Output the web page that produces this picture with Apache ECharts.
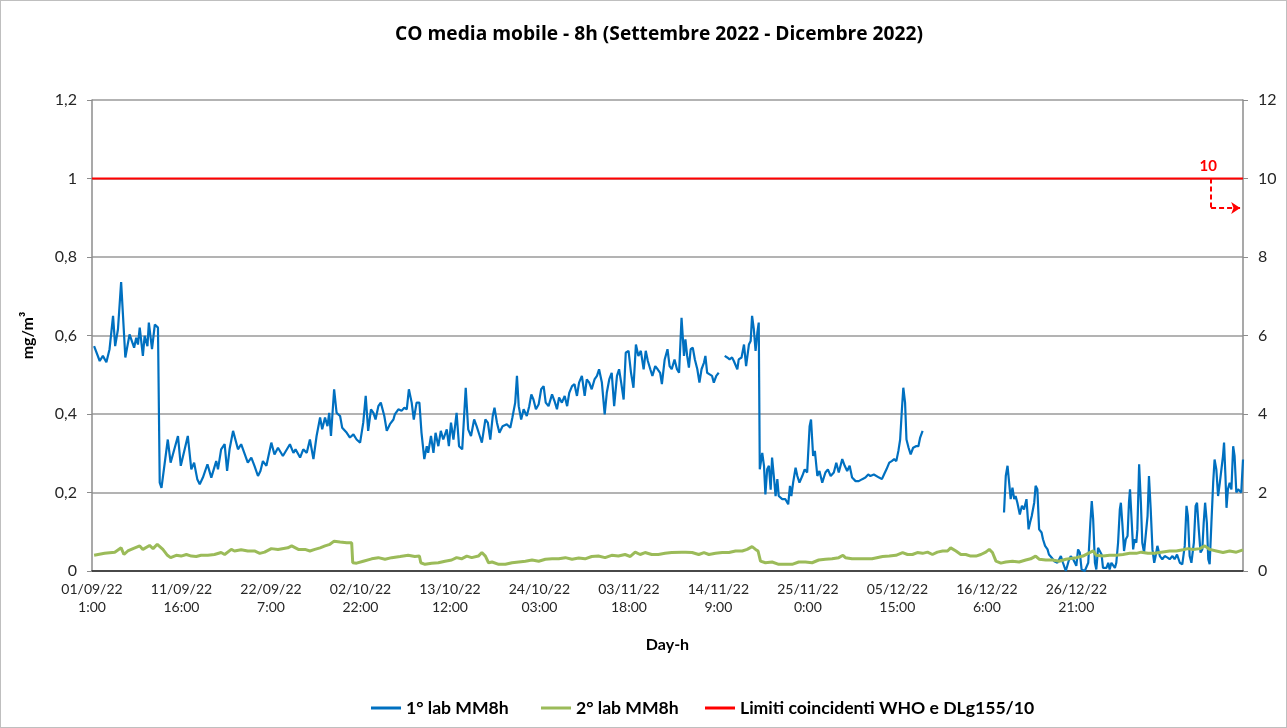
<!DOCTYPE html>
<html>
<head>
<meta charset="utf-8">
<script src="https://cdn.jsdelivr.net/npm/echarts@6/dist/echarts.min.js"></script>
<style>
html,body{margin:0;padding:0;background:#fff;}
#chart{position:absolute;left:0;top:0;width:1287px;height:728px;}
#frame{position:absolute;left:0;top:0;width:1287px;height:728px;box-sizing:border-box;border:1px solid #bfbfbf;pointer-events:none;}
</style>
</head>
<body>
<div id="chart"></div>
<div id="frame"></div>
<script>
// x-axis tick labels (every 255 hourly rows)
const tickLabels = ['01/09/22\n1:00','11/09/22\n16:00','22/09/22\n7:00','02/10/22\n22:00','13/10/22\n12:00','24/10/22\n03:00','03/11/22\n18:00','14/11/22\n9:00','25/11/22\n0:00','05/12/22\n15:00','16/12/22\n6:00','26/12/22\n21:00'];
const tickStep = 255;
const hoursTotal = 3280;

// 1° lab MM8h : hour index since 01/09/22 1:00 and value (mg/m3); null = gap
const blueHours = [6,22,31,41,50,60,66,74,83,95,107,120,126,131,136,145,150,158,162,171,179,188,193,198,216,224,245,253,273,283,291,300,307,316,329,340,354,359,368,378,385,392,402,416,425,444,454,463,473,480,487,497,511,520,530,544,
564,574,580,593,602,612,621,631,640,650,656,664,671,676,681,690,697,707,713,726,735,745,754,764,773,780,787,795,802,808,816,823,833,840,849,859,863,873,882,890,897,903,911,917,925,933,939,947,954,958,966,973,979,987,994,1001,1011,1017,1023,1030,1039,1046,1055,1065,1072,1080,1089,1096,1105,
1111,1121,1128,1135,1142,1147,1154,1161,1170,1182,1192,1198,1206,1211,1216,1223,1230,1239,1246,1252,1258,1265,1273,1280,1287,1293,1301,1311,1318,1325,1331,1339,1347,1354,1360,1368,1375,1382,1388,1396,1404,1410,1417,1424,1432,1439,1445,1453,1461,1467,1474,1481,1488,1496,1502,1508,1515,1521,1529,1536,1543,1550,1557,1564,1572,1578,1584,1591,1597,1605,1612,1619,1624,1632,1640,1646,1652,1660,1667,1673,1680,
1687,1691,1696,1701,1706,1712,1718,1725,1731,1737,1744,1748,1753,1760,1767,1772,1779,1786,1794,1803,1810,1817,1824,1829,1839,1843,1851,1858,1864,1872,1877,1881,1886,1891,1896,1900,1903,1910,1915,1919,1924,1929,1934,1938,1943,1948,1953,1957,1967,1976,1984,1989,1993,1998,2005,2010,2016,2024,2031,2038,2045,2049,2055,2060,2067,2073,2081,2090,2097,2105,2114,2121,2128,2138,2145,2152,2159,2166,2176,2185,2195,2204,2212,2218,2228,
2243,2251,2257,2264,2272,2279,2286,2292,2298,2303,2308,2312,2317,2321,2327,2333,2340,2348,2355,2360,2367,2480,2599,2604,2609,2614,2618,2623,2628,2632,2637,2644,2650,2656,2663,2669,2673,2678,2685,2689,2694,2699,2706,2710,2716,2723,2727,2735,2742,2751,2761,2767,2775,2783,2789,2796,
2801,2805,2810,2815,2820,2829,2839,2845,2849,2853,2858,2862,2867,2872,2877,2881,2886,2891,2896,2900,2905,2910,2915,2919,2924,2929,2932,2936,2941,2946,2951,2955,2958,2963,2967,2971,2976,2979,2984,2989,2993,2998,3003,3008,3012,3017,3022,3027,3031,3036,3043,3050,3057,3065,3071,3079,3085,3092,3100,3107,3114,3119,3123,3128,3133,3140,3145,3149,3154,3159,3164,3168,3172,3177,3181,3185,3190,3195,3199,3204,3209,3214,3218,3223,3226,3230,3233,3237,3242,3247,3252,3256,3261,3266,3271,3275,3280];
const blueValues = [0.573,0.535,0.548,0.532,0.565,0.650,0.573,0.616,0.736,0.544,0.603,0.569,0.594,0.577,0.620,0.548,0.599,0.573,0.633,0.565,0.628,0.620,0.225,0.212,0.335,0.276,0.344,0.268,0.344,0.259,0.276,0.234,0.221,0.238,0.272,0.238,0.280,0.259,0.310,0.323,0.255,0.310,0.357,0.310,0.323,0.276,0.289,0.268,0.242,0.255,0.280,0.268,0.327,0.297,0.314,0.293,
0.323,0.301,0.310,0.289,0.310,0.301,0.335,0.285,0.344,0.391,0.361,0.391,0.369,0.403,0.344,0.463,0.403,0.395,0.365,0.352,0.340,0.348,0.335,0.327,0.378,0.446,0.357,0.412,0.403,0.386,0.420,0.429,0.395,0.357,0.374,0.386,0.399,0.412,0.408,0.416,0.412,0.463,0.429,0.386,0.429,0.429,0.352,0.285,0.318,0.301,0.344,0.301,0.352,0.318,0.357,0.335,0.361,0.318,0.378,0.335,0.403,0.318,0.310,0.467,0.361,0.344,0.386,0.369,0.344,
0.327,0.386,0.378,0.335,0.395,0.416,0.378,0.352,0.369,0.374,0.365,0.391,0.429,0.497,0.420,0.386,0.412,0.395,0.420,0.450,0.437,0.412,0.425,0.463,0.471,0.429,0.420,0.450,0.433,0.412,0.442,0.429,0.446,0.420,0.454,0.471,0.476,0.446,0.480,0.497,0.446,0.488,0.480,0.463,0.488,0.497,0.514,0.480,0.399,0.454,0.488,0.505,0.420,0.497,0.514,0.480,0.437,0.556,0.561,0.505,0.467,0.577,0.548,0.561,0.514,0.561,0.535,0.514,0.497,0.522,0.514,0.505,0.476,0.539,0.565,0.522,0.514,0.539,0.514,0.505,0.645,
0.548,0.590,0.548,0.518,0.565,0.569,0.539,0.514,0.480,0.514,0.531,0.548,0.505,0.501,0.497,0.480,0.497,0.505,null,0.548,0.544,0.539,0.544,0.535,0.514,0.539,0.544,0.577,0.522,0.577,0.586,0.650,0.616,0.561,0.607,0.633,0.259,0.301,0.268,0.195,0.259,0.268,0.207,0.289,0.242,0.191,0.234,0.191,0.183,0.183,0.170,0.217,0.191,0.225,0.263,0.242,0.225,0.242,0.259,0.251,0.369,0.386,0.293,0.306,0.242,0.255,0.225,0.251,0.259,0.242,0.251,0.276,0.251,0.285,0.268,0.255,0.268,0.238,0.229,0.229,0.234,0.238,0.246,0.242,0.246,
0.238,0.234,0.246,0.259,0.276,0.280,0.285,0.280,0.306,0.335,0.412,0.467,0.429,0.335,0.314,0.297,0.314,0.318,0.318,0.340,0.357,null,0.149,0.242,0.268,0.272,0.183,0.212,0.183,0.191,0.174,0.144,0.166,0.157,0.183,0.106,0.123,0.140,0.174,0.217,0.208,0.106,0.098,0.081,0.064,0.055,0.042,0.034,0.025,0.021,0.038,0.021,0.0,0.025,0.038,0.030,
0.021,0.013,0.055,0.047,0.004,0.0,0.021,0.123,0.178,0.132,0.021,0.004,0.059,0.064,0.042,0.008,0.004,0.008,0.021,0.004,0.021,0.017,0.008,0.021,0.072,0.157,0.174,0.123,0.051,0.081,0.089,0.174,0.208,0.123,0.055,0.081,0.072,0.106,0.272,0.174,0.072,0.047,0.042,0.140,0.242,0.157,0.055,0.021,0.038,0.064,0.038,0.030,0.038,0.034,0.030,0.038,0.030,0.042,0.021,0.017,0.064,0.166,0.140,0.038,0.021,0.072,0.166,0.174,0.106,0.047,0.055,0.123,0.174,0.123,0.030,0.017,0.123,0.225,0.284,0.259,0.191,0.225,0.225,0.293,0.327,0.242,0.161,0.208,0.225,0.208,0.318,0.293,0.200,0.208,0.208,0.200,0.284];

// 2° lab MM8h
const greenHours = [6,36,65,83,91,102,117,136,145,164,174,186,202,215,224,240,254,269,283,297,311,330,349,368,378,397,406,425,444,463,478,492,511,530,558,569,588,607,621,635,650,664,678,690,707,726,740,743,754,773,797,816,835,854,878,901,920,933,937,949,968,987,1006,1025,1039,1053,1068,1082,1101,1111,1121,1130,1140,1159,1178,1197,1216,1235,1254,1273,1292,1311,1330,1349,1368,1387,1405,1424,1443,1462,1481,1500,1519,1534,1548,1562,1576,1595,1614,1633,1652,1681,1691,1710,1729,1744,1758,1777,1796,1815,1834,1853,1867,1881,1891,1898,1905,1919,1938,1957,1976,1995,2014,2033,2052,2071,2090,2109,2128,2140,2147,2166,2195,2223,2253,2272,2291,2310,2324,2338,2352,2367,2381,2395,2409,2424,2438,2447,2462,2476,2490,2504,2519,2533,2547,2557,2566,2576,2590,2604,2623,2642,2661,2675,2689,2699,2718,2737,2756,2775,2805,2824,2843,2853,2862,2881,2900,2919,2938,2957,2976,2990,3009,3028,3047,3071,3090,3109,3123,3138,3157,3171,3185,3204,3223,3242,3261,3280];
const greenValues = [0.040,0.045,0.048,0.059,0.042,0.051,0.057,0.064,0.055,0.065,0.057,0.068,0.055,0.040,0.034,0.040,0.038,0.042,0.038,0.037,0.040,0.040,0.042,0.047,0.042,0.055,0.051,0.054,0.051,0.051,0.045,0.048,0.057,0.055,0.059,0.064,0.055,0.055,0.051,0.055,0.059,0.064,0.068,0.076,0.074,0.072,0.072,0.021,0.020,0.025,0.031,0.034,0.030,0.034,0.037,0.040,0.037,0.038,0.021,0.017,0.020,0.021,0.025,0.028,0.034,0.031,0.038,0.034,0.038,0.047,0.038,0.021,0.023,0.017,0.017,0.021,0.023,0.025,0.028,0.025,0.030,0.031,0.031,0.034,0.030,0.033,0.031,0.037,0.038,0.034,0.040,0.038,0.042,0.037,0.048,0.042,0.047,0.042,0.042,0.045,0.047,0.048,0.048,0.047,0.042,0.047,0.042,0.045,0.047,0.047,0.051,0.051,0.055,0.062,0.055,0.051,0.025,0.021,0.023,0.017,0.017,0.017,0.023,0.023,0.021,0.028,0.030,0.031,0.034,0.040,0.034,0.031,0.031,0.031,0.037,0.038,0.040,0.047,0.042,0.042,0.047,0.045,0.048,0.042,0.048,0.051,0.051,0.059,0.051,0.042,0.042,0.038,0.038,0.042,0.048,0.055,0.047,0.025,0.020,0.023,0.025,0.023,0.028,0.031,0.038,0.030,0.028,0.028,0.025,0.030,0.034,0.038,0.047,0.051,0.040,0.038,0.040,0.040,0.042,0.045,0.045,0.048,0.045,0.045,0.048,0.051,0.051,0.054,0.057,0.055,0.057,0.064,0.055,0.051,0.047,0.051,0.048,0.054];

// limit (WHO / DLg155/10), mg/m3
const limitValue = 1.0;
const limitLabel = '10';
// annotation arrow: vertex points in data units
const arrowHour = 3189, arrowEndHour = 3272, arrowLevel = 0.925;
const labelHour = 3181, labelLevel = 1.032;

const zip = (h, v) => h.map((x, i) => [x, v[i]]);
const FONT = 'Lato';
const TFONT = 'Open Sans';

const legendCommon = {top: 694, itemWidth: 30, itemHeight: 3, icon: 'rect',
  textStyle: {fontFamily: FONT, fontSize: 17.6, fontWeight: 'bold', color: '#000'}};

const chart = echarts.init(document.getElementById('chart'), null, {renderer: 'canvas'});
chart.setOption({
  animation: false,
  backgroundColor: '#ffffff',
  textStyle: {fontFamily: FONT},
  title: {
    text: 'CO media mobile - 8h (Settembre 2022 - Dicembre 2022)',
    left: 390, top: 20,
    textStyle: {fontFamily: TFONT, fontSize: 19.2, fontWeight: 'bold', color: '#000'}
  },
  grid: {left: 92, right: 44, top: 100, bottom: 157, containLabel: false},
  legend: [
    Object.assign({data: ['1° lab MM8h'], left: 366}, legendCommon),
    Object.assign({data: ['2° lab MM8h'], left: 536}, legendCommon),
    Object.assign({data: ['Limiti coincidenti WHO e DLg155/10'], left: 700}, legendCommon)
  ],
  xAxis: {
    type: 'value', min: 0, max: hoursTotal, interval: tickStep,
    name: 'Day-h', nameLocation: 'middle', nameGap: 66,
    nameTextStyle: {fontFamily: FONT, fontSize: 16, fontWeight: 'bold', color: '#000'},
    axisLine: {show: true, lineStyle: {color: '#262626', width: 1.5}},
    axisTick: {show: false},
    splitLine: {show: false},
    axisLabel: {
      margin: 9, fontSize: 14, color: '#262626', lineHeight: 18, fontFamily: FONT,
      formatter: v => (v % tickStep === 0 && v / tickStep < tickLabels.length) ? tickLabels[v / tickStep] : ''
    }
  },
  yAxis: [
    {
      type: 'value', min: 0, max: 1.2, interval: 0.2, position: 'left',
      name: 'mg/m³', nameLocation: 'middle', nameGap: 56, nameRotate: 90,
      nameTextStyle: {fontFamily: FONT, fontSize: 16, fontWeight: 'bold', color: '#000'},
      axisLine: {show: true, lineStyle: {color: '#8c8c8c', width: 1.5}},
      axisTick: {show: true, length: 5, lineStyle: {color: '#8c8c8c'}},
      splitLine: {show: true, lineStyle: {color: '#9a9a9a', width: 1.5}},
      axisLabel: {margin: 15, fontSize: 16, color: '#262626', fontFamily: FONT,
        formatter: v => String(+v.toFixed(1)).replace('.', ',')}
    },
    {
      type: 'value', min: 0, max: 12, interval: 2, position: 'right',
      axisLine: {show: true, lineStyle: {color: '#8c8c8c', width: 1.5}},
      axisTick: {show: true, length: 5, lineStyle: {color: '#8c8c8c'}},
      splitLine: {show: false},
      axisLabel: {margin: 15, fontSize: 16, color: '#262626', fontFamily: FONT}
    }
  ],
  series: [
    {
      name: '1° lab MM8h', type: 'line', yAxisIndex: 0, data: zip(blueHours, blueValues),
      symbol: 'none', connectNulls: false, z: 3,
      lineStyle: {color: '#0070C0', width: 2.2}, itemStyle: {color: '#0070C0'}
    },
    {
      name: '2° lab MM8h', type: 'line', yAxisIndex: 0, data: zip(greenHours, greenValues),
      symbol: 'none', z: 4,
      lineStyle: {color: '#9BBB59', width: 3}, itemStyle: {color: '#9BBB59'}
    },
    {
      name: 'Limiti coincidenti WHO e DLg155/10', type: 'line', yAxisIndex: 0,
      data: [[0, limitValue], [hoursTotal, limitValue]],
      symbol: 'none', z: 5,
      lineStyle: {color: '#FF0000', width: 2}, itemStyle: {color: '#FF0000'},
      markLine: {
        silent: true, animation: false,
        lineStyle: {color: '#FF0000', type: [5, 3], width: 2},
        label: {show: false},
        data: [
          [{coord: [arrowHour, limitValue], symbol: 'none'}, {coord: [arrowHour, arrowLevel], symbol: 'none'}],
          [{coord: [arrowHour, arrowLevel], symbol: 'none'}, {coord: [arrowEndHour, arrowLevel], symbol: 'arrow', symbolSize: 9}]
        ]
      },
      markPoint: {
        silent: true, animation: false,
        symbol: 'circle', symbolSize: 1, itemStyle: {color: 'rgba(0,0,0,0)'},
        label: {show: true, position: 'inside', formatter: limitLabel, color: '#FF0000', fontWeight: 'bold', fontSize: 15, fontFamily: FONT},
        data: [{coord: [labelHour, labelLevel]}]
      }
    }
  ]
});
</script>
</body>
</html>
